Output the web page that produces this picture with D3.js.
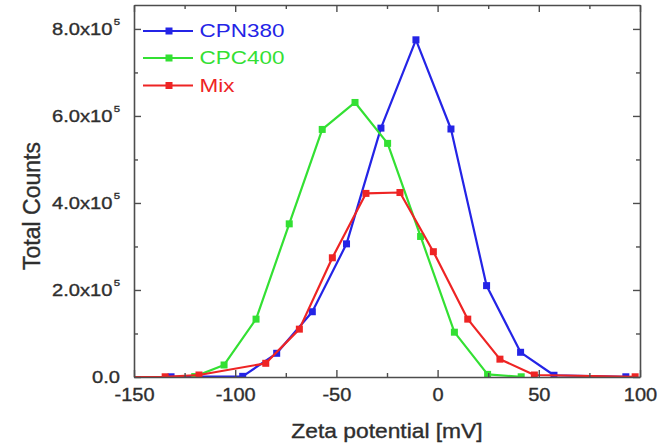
<!DOCTYPE html>
<html>
<head>
<meta charset="utf-8">
<script src="https://cdn.jsdelivr.net/npm/d3@7/dist/d3.min.js"></script>
<style>
  html, body { margin: 0; padding: 0; background: #fff; }
  svg { display: block; }
  text { font-family: "Liberation Sans", Arial, sans-serif; fill: #2e2e2e; }
</style>
</head>
<body>
<svg id="chart" width="668" height="448"></svg>
<script>
// Zeta potential distributions (total counts vs. mV)
const cpnX = [-131.7, -96.3, -79.5, -61.9, -45.0, -28.0, -10.7, 6.6, 24.2, 41.0, 57.5, 93.0];
const cpnY = [500, 1500, 54500, 150000, 306000, 572000, 775000, 570000, 210000, 56800, 4000, 500];

const cpcX = [-120.0, -105.5, -89.7, -73.3, -57.0, -40.8, -24.7, -8.4, 8.3, 24.7, 41.3];
const cpcY = [1000, 27600, 133000, 352000, 569000, 631000, 537000, 323000, 103000, 6000, 500];

const mixX = [-151.2, -134.6, -117.9, -84.9, -68.3, -52.0, -35.4, -18.6, -2.1, 14.9, 30.8, 47.8, 97.6];
const mixY = [0, 500, 4600, 31500, 110000, 274000, 422000, 424000, 288000, 133000, 41000, 4600, 500];

const seriesNames = ["CPN380", "CPC400", "Mix"];
const seriesColors = ["#2424e6", "#33e033", "#ee2424"];

const xMajor = [-150, -100, -50, 0, 50, 100];
const xMinor = [-125, -75, -25, 25, 75];
const yMajor = [0, 200000, 400000, 600000, 800000];
const yMinor = [100000, 300000, 500000, 700000];

const xTitle = "Zeta potential [mV]";
const yTitle = "Total Counts";

const svg = d3.select("#chart");
const pLeft = 134, pRight = 640, pTop = 5, pBottom = 377;

const x = d3.scaleLinear().domain([-150, 100]).range([pLeft, pRight]);
const y = d3.scaleLinear().domain([0, 855000]).range([pBottom, pTop]);

const axisColor = "#4d4d4d";

// clip region for the data
svg.append("defs").append("clipPath").attr("id", "plot-clip")
  .append("rect").attr("x", pLeft).attr("y", pTop).attr("width", pRight - pLeft).attr("height", pBottom - pTop);

const series = [
  { name: seriesNames[0], color: seriesColors[0], xs: cpnX, ys: cpnY },
  { name: seriesNames[1], color: seriesColors[1], xs: cpcX, ys: cpcY },
  { name: seriesNames[2], color: seriesColors[2], xs: mixX, ys: mixY }
];

const line = d3.line().x(d => x(d[0])).y(d => y(d[1]));
const plot = svg.append("g").attr("clip-path", "url(#plot-clip)");
const mk = 7;

series.forEach(s => {
  const pts = s.xs.map((v, i) => [v, s.ys[i]]);
  const g = plot.append("g");
  g.append("path").datum(pts)
    .attr("d", line)
    .attr("fill", "none")
    .attr("stroke", s.color)
    .attr("stroke-width", 2.2)
    .attr("stroke-linejoin", "round");
  g.selectAll("rect").data(pts).join("rect")
    .attr("x", d => x(d[0]) - mk / 2)
    .attr("y", d => y(d[1]) - mk / 2)
    .attr("width", mk).attr("height", mk)
    .attr("fill", s.color);
});

// axes: ticks point inward on all four sides
function styleAxis(g) {
  g.selectAll(".domain").attr("stroke", axisColor).attr("stroke-width", 1.6);
  g.selectAll(".tick line").attr("stroke", axisColor).attr("stroke-width", 1.4);
}
function minor(g) {
  g.select(".domain").remove();
  g.selectAll(".tick line").attr("stroke", axisColor).attr("stroke-width", 1.4);
  g.selectAll(".tick text").remove();
}
const labelFont = "Liberation Sans, Arial, sans-serif";

// bottom
const gx = svg.append("g").attr("transform", `translate(0,${pBottom})`)
  .call(d3.axisBottom(x).tickValues(xMajor).tickSizeInner(-7).tickSizeOuter(0).tickPadding(10.3)
    .tickFormat(d => String(d)));
styleAxis(gx);
gx.selectAll(".tick text")
  .attr("font-size", 18.7).attr("fill", "#2e2e2e").attr("font-family", labelFont)
  .attr("stroke", "#2e2e2e").attr("stroke-width", 0.35)
  .attr("transform", "scale(1.07,1)");
svg.append("g").attr("transform", `translate(0,${pBottom})`)
  .call(d3.axisBottom(x).tickValues(xMinor).tickSizeInner(-4).tickSizeOuter(0)).call(minor);

// top
const gxt = svg.append("g").attr("transform", `translate(0,${pTop})`)
  .call(d3.axisTop(x).tickValues(xMajor).tickSizeInner(-7).tickSizeOuter(0).tickFormat(""));
styleAxis(gxt);
svg.append("g").attr("transform", `translate(0,${pTop})`)
  .call(d3.axisTop(x).tickValues(xMinor).tickSizeInner(-4).tickSizeOuter(0)).call(minor);

// left
const sx = 1.2;
const gy = svg.append("g").attr("transform", `translate(${pLeft},0)`)
  .call(d3.axisLeft(y).tickValues(yMajor).tickSizeInner(-7).tickSizeOuter(0).tickPadding(14));
styleAxis(gy);
gy.selectAll(".tick text").each(function (d) {
  const t = d3.select(this);
  t.text(null)
    .attr("font-size", 16.8)
    .attr("fill", "#2e2e2e")
    .attr("stroke", "#2e2e2e").attr("stroke-width", 0.35)
    .attr("font-family", labelFont)
    .attr("transform", `scale(${sx},1)`)
    .attr("x", -14 / sx);
  if (d === 0) {
    t.append("tspan").text("0.0");
  } else {
    t.append("tspan").text((d / 1e5).toFixed(1) + "x10");
    t.append("tspan").attr("font-size", 9.5).attr("dy", -9.5).attr("dx", 1).text("5");
  }
});
svg.append("g").attr("transform", `translate(${pLeft},0)`)
  .call(d3.axisLeft(y).tickValues(yMinor).tickSizeInner(-4).tickSizeOuter(0)).call(minor);

// right
const gyr = svg.append("g").attr("transform", `translate(${pRight},0)`)
  .call(d3.axisRight(y).tickValues(yMajor).tickSizeInner(-7).tickSizeOuter(0).tickFormat(""));
styleAxis(gyr);
svg.append("g").attr("transform", `translate(${pRight},0)`)
  .call(d3.axisRight(y).tickValues(yMinor).tickSizeInner(-4).tickSizeOuter(0)).call(minor);

// axis titles
svg.append("text")
  .attr("transform", `translate(${(pLeft + pRight) / 2},438.3) scale(1.14,1)`)
  .attr("text-anchor", "middle")
  .attr("font-size", 20)
  .attr("stroke", "#2e2e2e").attr("stroke-width", 0.35)
  .text(xTitle);

svg.append("text")
  .attr("transform", "translate(40,206) rotate(-90)")
  .attr("text-anchor", "middle")
  .attr("font-size", 23)
  .attr("stroke", "#2e2e2e").attr("stroke-width", 0.35)
  .text(yTitle);

// legend
const legend = svg.append("g");
const legY = [31, 58, 85.5];
series.forEach((s, i) => {
  const g = legend.append("g").attr("transform", `translate(0,${legY[i]})`);
  g.append("line").attr("x1", 143).attr("x2", 193).attr("y1", 0).attr("y2", 0)
    .attr("stroke", s.color).attr("stroke-width", 2.2);
  g.append("rect").attr("x", 169 - mk / 2).attr("y", -mk / 2).attr("width", mk).attr("height", mk)
    .attr("fill", s.color);
  g.append("text")
    .attr("transform", "translate(199.5,0) scale(1.27,1)")
    .attr("dy", "0.36em")
    .attr("font-size", 17.7)
    .style("fill", s.color)
    .text(s.name);
});
</script>
</body>
</html>
